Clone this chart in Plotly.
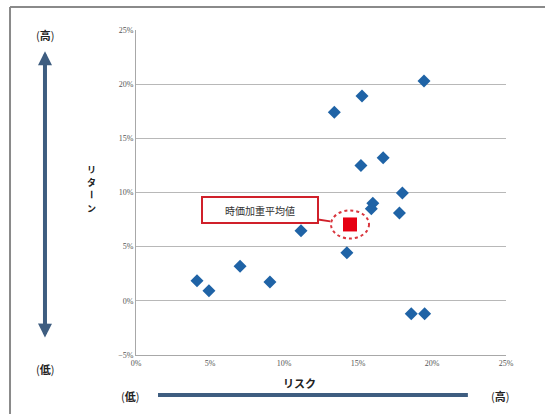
import plotly.graph_objects as go

# Risk / return of individual assets (fractions)
risk = [0.0412, 0.0493, 0.0703, 0.0905, 0.1115, 0.1340, 0.1425, 0.1527, 0.1520,
        0.1670, 0.1600, 0.1590, 0.1800, 0.1780, 0.1946, 0.1860, 0.1950]
ret = [0.0185, 0.0092, 0.0320, 0.0175, 0.0646, 0.1740, 0.0443, 0.1890, 0.1250,
       0.1320, 0.0900, 0.0850, 0.0996, 0.0810, 0.2030, -0.0120, -0.0120]

# Weighted average point
avg_risk = [0.1446]
avg_ret = [0.0705]
avg_label = "時価加重平均値"

y_ticks = [-0.05, 0, 0.05, 0.10, 0.15, 0.20, 0.25]
x_ticks = [0, 0.05, 0.10, 0.15, 0.20, 0.25]

JP = "Noto Sans CJK JP"
ARROW = "#3e5d80"

fig = go.Figure()
fig.add_trace(go.Scatter(
    x=risk, y=ret, mode="markers",
    marker=dict(symbol="diamond", size=10, color="#1f63a6"),
    hoverinfo="skip", showlegend=False))
fig.add_trace(go.Scatter(
    x=avg_risk, y=avg_ret, mode="markers",
    marker=dict(symbol="square", size=14, color="#e60012"),
    hoverinfo="skip", showlegend=False))

# dotted ring around the average point
fig.add_shape(type="circle", xref="x", yref="y",
              xsizemode="pixel", ysizemode="pixel",
              xanchor=avg_risk[0], yanchor=avg_ret[0],
              x0=-19, x1=19, y0=-14, y1=14,
              line=dict(color="#d9363e", width=2, dash="dot"))

# callout
fig.add_annotation(x=avg_risk[0], y=avg_ret[0], xref="x", yref="y",
                   text=avg_label, showarrow=True, ax=-90, ay=-14,
                   arrowhead=0, arrowwidth=2, arrowcolor="#d0202a", standoff=20,
                   font=dict(family=JP, size=10, color="#333"),
                   bgcolor="white", bordercolor="#d0202a", borderwidth=2,
                   borderpad=4, width=106, height=16)

# frame
fig.add_shape(type="line", xref="paper", yref="paper",
              x0=-0.3405, x1=1.2, y0=1.0708, y1=1.0708,
              line=dict(color="#8a8a8a", width=2))
fig.add_shape(type="line", xref="paper", yref="paper",
              x0=-0.3405, x1=-0.3405, y0=1.0708, y1=-0.2,
              line=dict(color="#8a8a8a", width=2))

# vertical double arrow for return
fig.add_annotation(xref="paper", yref="paper", x=-0.246, y=0.935,
                   ax=0, ay=288, text="", showarrow=True,
                   arrowhead=2, arrowside="end+start", arrowsize=0.7,
                   arrowwidth=4, arrowcolor=ARROW)
# horizontal bar for risk
fig.add_shape(type="line", xref="paper", yref="paper",
              x0=0.0595, x1=0.897, y0=-0.123, y1=-0.123,
              line=dict(color=ARROW, width=4))

lbl = dict(family=JP, size=11, color="#222")
for x, y, t in [(-0.246, 0.985, "(<b>高</b>)"), (-0.246, -0.043, "(<b>低</b>)"),
                (-0.016, -0.126, "(<b>低</b>)"), (0.984, -0.126, "(<b>高</b>)")]:
    fig.add_annotation(xref="paper", yref="paper", x=x, y=y, text=t,
                       xanchor="center", yanchor="middle",
                       showarrow=False, font=lbl)

fig.add_annotation(xref="paper", yref="paper", x=0.443, y=-0.086,
                   text="<b>リスク</b>", showarrow=False, font=lbl,
                   xanchor="center", yanchor="middle")

# y-axis title written vertically, one character at a time
title_chars = ["リ", "タ", "ー", "ン"]
for i, ch in enumerate(title_chars):
    fig.add_annotation(xref="paper", yref="paper", x=-0.119,
                       y=(355 - 169 - 13 * i) / 325, text=f"<b>{ch}</b>",
                       textangle=90 if ch == "ー" else 0,
                       showarrow=False, xanchor="center", yanchor="middle",
                       font=dict(family=JP, size=9, color="#222"))

tick_font = dict(family="Liberation Serif", size=8, color="#555")
fig.update_xaxes(range=[0, 0.25], tickvals=x_ticks, tickformat=".0%",
                 showgrid=False, zeroline=False, showline=True,
                 linecolor="#a8a8a8", linewidth=1, ticks="",
                 tickfont=tick_font)
fig.update_yaxes(range=[-0.05, 0.25], tickvals=y_ticks, tickformat=".0%",
                 showgrid=True, gridcolor="#b8b8b8", gridwidth=1,
                 zeroline=False, showline=True, linecolor="#a8a8a8",
                 linewidth=1, ticks="", ticklen=0, tickfont=tick_font)

fig.update_layout(width=545, height=414,
                  margin=dict(l=136, r=39, t=30, b=59),
                  paper_bgcolor="white", plot_bgcolor="white")

fig.write_html("out.html")
